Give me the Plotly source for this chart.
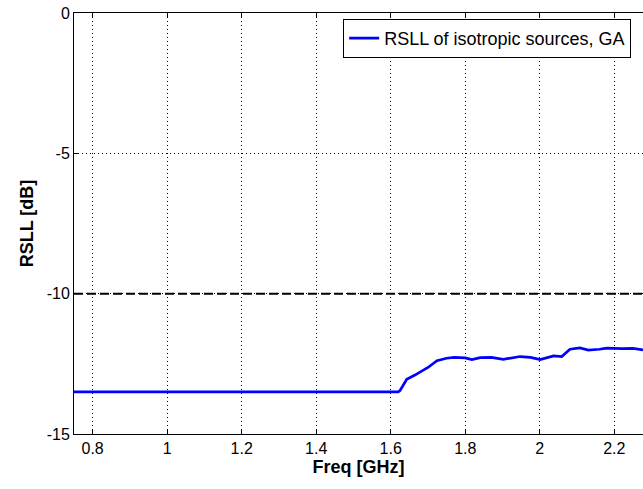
import plotly.graph_objects as go

freq = [0.75, 1.62, 1.625, 1.632, 1.643, 1.665, 1.70, 1.724, 1.75, 1.77, 1.80, 1.818,
        1.84, 1.87, 1.902, 1.947, 1.975, 2.001, 2.037, 2.059, 2.066, 2.081, 2.108,
        2.13, 2.16, 2.18, 2.22, 2.25, 2.277]
rsll = [-13.5, -13.5, -13.45, -13.3, -13.05, -12.9, -12.63, -12.39, -12.3, -12.27,
        -12.29, -12.35, -12.28, -12.27, -12.34, -12.24, -12.27, -12.35, -12.22, -12.24,
        -12.15, -11.98, -11.93, -12.01, -11.98, -11.94, -11.96, -11.95, -12.0]
thr_freq = [0.75, 2.3]
thr_val = [-10, -10]
x_ticks = [0.8, 1, 1.2, 1.4, 1.6, 1.8, 2, 2.2]
y_ticks = [0, -5, -10, -15]

font = "Liberation Sans, Arial, sans-serif"

fig = go.Figure()
fig.add_trace(go.Scatter(x=thr_freq, y=thr_val, mode="lines", showlegend=False,
                         line=dict(color="black", width=2, dash="9px,4px")))
fig.add_trace(go.Scatter(x=freq, y=rsll, mode="lines", name="RSLL of isotropic sources, GA",
                         line=dict(color="#0000FF", width=2.7)))

fig.update_layout(
    width=643, height=489,
    margin=dict(l=74, r=0, t=13, b=55),
    paper_bgcolor="white", plot_bgcolor="white",
    font=dict(family=font, size=16, color="black"),
    hovermode=False,
    legend=dict(x=0.473, y=0.986, xanchor="left", yanchor="top",
                bgcolor="white", bordercolor="black", borderwidth=1,
                font=dict(size=18), tracegroupgap=0),
    xaxis=dict(range=[0.75, 2.277], tickvals=x_ticks, ticktext=[str(v) for v in x_ticks],
               ticks="inside", ticklen=5, tickcolor="black", automargin=False,
               ticklabeloverflow="allow",
               showline=True, linecolor="black", linewidth=1, mirror="ticks",
               showgrid=True, gridcolor="black", gridwidth=1, griddash="1px,3px",
               zeroline=False,
               title=dict(text="<b>Freq [GHz]</b>", font=dict(size=18), standoff=3)),
    yaxis=dict(range=[-15, 0], tickvals=y_ticks, ticktext=[str(v) for v in y_ticks],
               ticks="inside", ticklen=5, tickcolor="black", automargin=False,
               ticklabeloverflow="allow",
               showline=True, linecolor="black", linewidth=1, mirror=False,
               showgrid=True, gridcolor="black", gridwidth=1, griddash="1px,3px",
               zeroline=False,
               title=dict(text="<b>RSLL [dB]</b>", font=dict(size=18), standoff=8)),
)

# Remove the browser's default 8px page margin so the figure fills the window exactly.
fig.write_html("out.html",
               config={"displayModeBar": False, "staticPlot": True},
               post_script="document.body.style.margin='0';document.body.style.overflow='hidden';")
